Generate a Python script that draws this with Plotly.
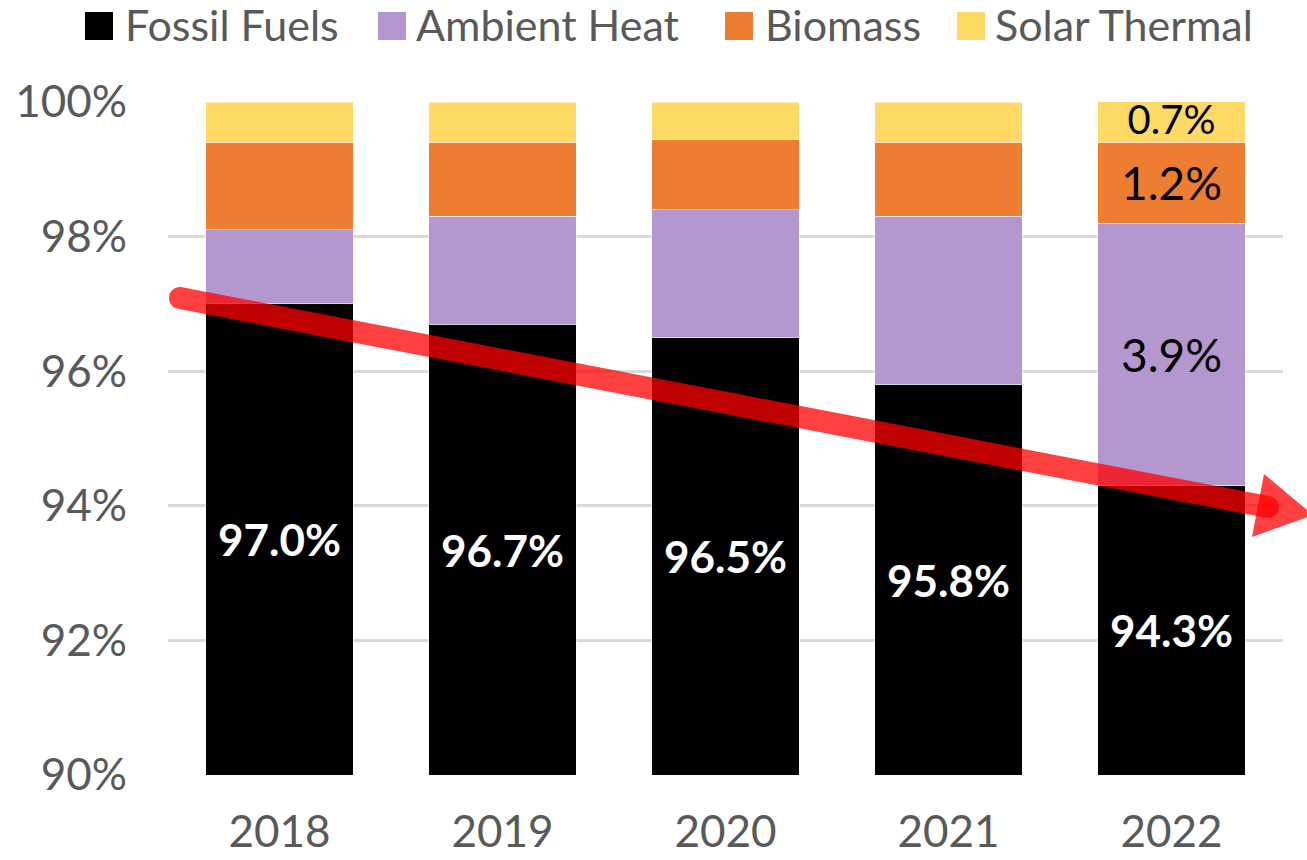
import numpy as np
import plotly.graph_objects as go

# Shares of final heat consumption by energy source (%)
years = ["2018", "2019", "2020", "2021", "2022"]
fossil_fuels = [97.0, 96.7, 96.5, 95.8, 94.3]
ambient_heat = [1.1, 1.6, 1.9, 2.5, 3.9]
biomass = [1.3, 1.1, 1.05, 1.1, 1.2]
solar_thermal = [0.6, 0.6, 0.55, 0.6, 0.7]

series_names = ["Fossil Fuels", "Ambient Heat", "Biomass", "Solar Thermal"]
series_colors = ["#000000", "#B497CF", "#ED7D31", "#FFD966"]

y_ticks = [90, 92, 94, 96, 98, 100]
y_tick_text = [f"{t}%" for t in y_ticks]

W, H = 1307, 860
M_L, M_R, M_T, M_B = 168, 24, 102, 85
PW, PH = W - M_L - M_R, H - M_T - M_B

FONT = "Lato, Open Sans, sans-serif"
GREY_TXT = "#595959"


def to_paper(px, py):
    return float((px - M_L) / PW), float((H - M_B - py) / PH)


def last_only(values):
    return [""] * (len(values) - 1) + [f"{values[-1]:.1f}%"]


fig = go.Figure()

stack = [fossil_fuels, ambient_heat, biomass, solar_thermal]
label_sizes = [44, 46, 46, 40]
for i, (name, vals, col) in enumerate(zip(series_names, stack, series_colors)):
    trace = dict(
        x=years, y=vals, name=name, orientation="v",
        marker=dict(color=col, line=dict(color="rgba(255,255,255,0.55)", width=1)),
        showlegend=False,
    )
    if i > 0:
        trace.update(
            text=last_only(vals),
            textposition="inside",
            insidetextanchor="middle",
            constraintext="none",
            textfont=dict(family=FONT, size=label_sizes[i], color="#000000"),
        )
    fig.add_trace(go.Bar(**trace))

# Fossil share labels, centred in the visible part of each bar
for idx, v in enumerate(fossil_fuels):
    fig.add_annotation(
        x=idx, y=(y_ticks[0] + v) / 2, xref="x", yref="y",
        text=f"<b>{v:.1f}%</b>", showarrow=False,
        font=dict(family=FONT, size=label_sizes[0], color="#FFFFFF"),
    )

shapes = []

# Legend row: coloured squares with labels
legend_sq_x = [85, 378, 725, 957]
legend_txt_x = [123, 414, 763, 993]
for name, col, sx, tx in zip(series_names, series_colors, legend_sq_x, legend_txt_x):
    x0, y0 = to_paper(sx, 40)
    x1, y1 = to_paper(sx + 28, 12)
    shapes.append(dict(type="rect", xref="paper", yref="paper",
                       x0=x0, y0=y0, x1=x1, y1=y1,
                       fillcolor=col, line=dict(width=0)))
    ax, ay = to_paper(tx, 25)
    fig.add_annotation(x=ax, y=ay, xref="paper", yref="paper",
                       xanchor="left", yanchor="middle", showarrow=False,
                       text=name, font=dict(family=FONT, size=43, color=GREY_TXT))

# Red trend arrow: rounded shaft plus triangular head
S = np.array([180.0, 298.0])
E = np.array([1268.0, 507.0])
r = 11.0
u = (E - S) / np.linalg.norm(E - S)
n = np.array([-u[1], u[0]])
k = 0.5523


def pt(p):
    x, y = to_paper(p[0], p[1])
    return f"{x:.5f},{y:.5f}"


path = (
    f"M{pt(S + r*n)} L{pt(E + r*n)} "
    f"C{pt(E + r*n + k*r*u)} {pt(E + r*u + k*r*n)} {pt(E + r*u)} "
    f"C{pt(E + r*u - k*r*n)} {pt(E - r*n + k*r*u)} {pt(E - r*n)} "
    f"L{pt(S - r*n)} "
    f"C{pt(S - r*n - k*r*u)} {pt(S - r*u - k*r*n)} {pt(S - r*u)} "
    f"C{pt(S - r*u + k*r*n)} {pt(S + r*n - k*r*u)} {pt(S + r*n)} Z"
)
shapes.append(dict(type="path", xref="paper", yref="paper", path=path,
                   fillcolor="#FF0000", opacity=0.75, line=dict(width=0),
                   layer="above"))

head = [np.array([1264.0, 474.0]), np.array([1313.0, 515.0]), np.array([1252.0, 537.0])]
head_path = f"M{pt(head[0])} L{pt(head[1])} L{pt(head[2])} Z"
shapes.append(dict(type="path", xref="paper", yref="paper", path=head_path,
                   fillcolor="#FF0000", opacity=0.75, line=dict(width=0),
                   layer="above"))

fig.update_layout(
    width=W, height=H,
    margin=dict(l=M_L, r=M_R, t=M_T, b=M_B, pad=0, autoexpand=False),
    barmode="stack", bargap=0.34,
    plot_bgcolor="#FFFFFF", paper_bgcolor="#FFFFFF",
    shapes=shapes,
    xaxis=dict(
        type="category", categoryorder="array", categoryarray=years,
        range=[-0.5, len(years) - 0.5], autorange=False, automargin=False,
        tickfont=dict(family=FONT, size=44, color=GREY_TXT),
        showgrid=False, showline=False, zeroline=False,
        ticks="", ticklabelstandoff=27,
    ),
    yaxis=dict(
        range=[90, 100], autorange=False, automargin=False,
        tickvals=y_ticks, ticktext=y_tick_text,
        tickfont=dict(family=FONT, size=44, color=GREY_TXT),
        showgrid=True, gridcolor="#D9D9D9", gridwidth=2.5,
        zeroline=False, showline=False, ticks="", ticklabelstandoff=40,
    ),
)

fig.write_html("out.html")
